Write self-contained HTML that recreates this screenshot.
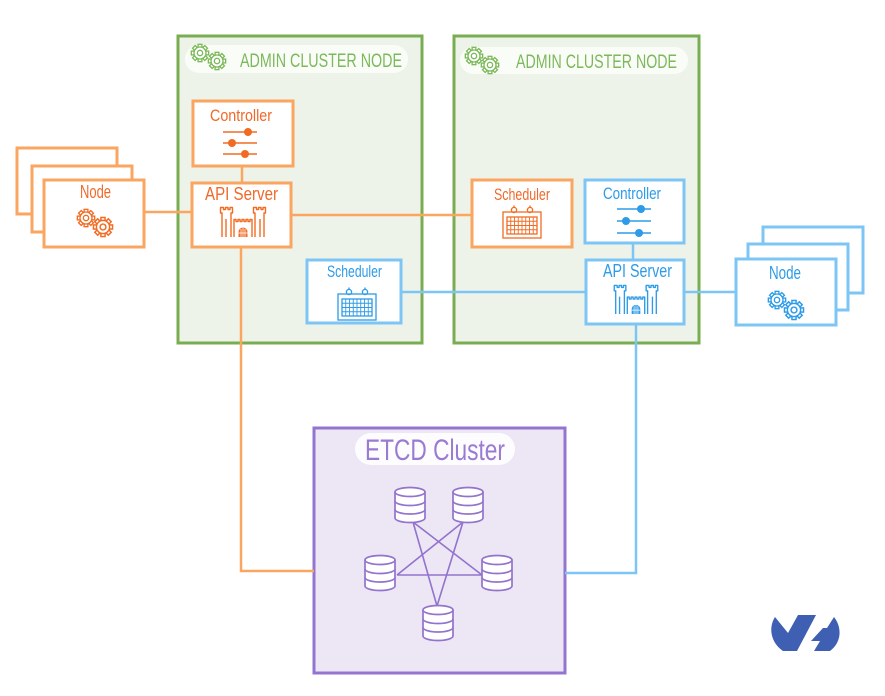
<!DOCTYPE html>
<html><head><meta charset="utf-8"><style>
html,body{margin:0;padding:0;background:#fff;}
svg{display:block;}
text{font-family:"Liberation Sans Narrow","Liberation Sans",sans-serif;}
</style></head><body>
<svg width="885" height="696" viewBox="0 0 885 696" xmlns="http://www.w3.org/2000/svg">
<defs>
<symbol id="gear" viewBox="-9 -9 18 18" overflow="visible">
<g fill="#fff" stroke="currentColor" stroke-width="1.2">
<rect x="-1.7" y="-7.8" width="3.4" height="3.8"/>
<rect x="-1.7" y="-7.8" width="3.4" height="3.8" transform="rotate(45)"/>
<rect x="-1.7" y="-7.8" width="3.4" height="3.8" transform="rotate(90)"/>
<rect x="-1.7" y="-7.8" width="3.4" height="3.8" transform="rotate(135)"/>
<rect x="-1.7" y="-7.8" width="3.4" height="3.8" transform="rotate(180)"/>
<rect x="-1.7" y="-7.8" width="3.4" height="3.8" transform="rotate(225)"/>
<rect x="-1.7" y="-7.8" width="3.4" height="3.8" transform="rotate(270)"/>
<rect x="-1.7" y="-7.8" width="3.4" height="3.8" transform="rotate(315)"/>
<circle r="5.4"/>
<circle r="2.4"/>
</g>
</symbol>
<symbol id="castle" viewBox="0 0 46 30" overflow="visible">
<g fill="none" stroke="currentColor" stroke-width="1.4" stroke-linejoin="round">
<path d="M2,30 V6 H0.5 V0.5 H3.5 V2.5 H5.5 V0.5 H8 V2.5 H10 V0.5 H12.5 V6 H11 V30"/>
<path d="M35,30 V6 H33.5 V0.5 H36.5 V2.5 H38.5 V0.5 H41 V2.5 H43 V0.5 H45.5 V6 H44 V30"/>
<path d="M14,30 V12.5 H16 V14.5 H18 V12.5 H20 V14.5 H22 V12.5 H24 V14.5 H26 V12.5 H28 V14.5 H30 V12.5 H32 V30"/>
<path d="M6,12 V30 M40,12 V30"/>
</g>
<path d="M18.5,30 V25 A4.5,4.5 0 0 1 27.5,25 V30 Z" fill="currentColor"/>
<path d="M21,30 V22 M23,30 V21 M25,30 V22 M18.5,26 H27.5" stroke="#fff" stroke-width="0.7"/>
</symbol>
<symbol id="cal" viewBox="0 -4 40 34" overflow="visible">
<g fill="none" stroke="currentColor" stroke-width="1.3">
<rect x="1" y="3" width="38" height="26"/>
<circle cx="12" cy="1" r="2.6"/>
<circle cx="28" cy="1" r="2.6"/>
<path d="M12,-3.5 V-1 M28,-3.5 V-1"/>
<rect x="5" y="8" width="30" height="17"/>
<path d="M8.75,8 V25 M12.5,8 V25 M16.25,8 V25 M20,8 V25 M23.75,8 V25 M27.5,8 V25 M31.25,8 V25 M5,12.25 H35 M5,16.5 H35 M5,20.75 H35" stroke-width="0.9"/>
</g>
</symbol>
<symbol id="db" viewBox="0 0 32 36" overflow="visible">
<g fill="#fff" stroke="#9373cc" stroke-width="1.7">
<path d="M1,5 V31 A15,4.5 0 0 0 31,31 V5"/>
<ellipse cx="16" cy="5" rx="15" ry="4.5"/>
<path d="M1,14 A15,4.5 0 0 0 31,14 M1,22.5 A15,4.5 0 0 0 31,22.5" fill="none"/>
</g>
</symbol>
</defs>

<!-- Admin clusters -->
<rect x="178" y="36" width="244" height="307" fill="#eef3e9" stroke="#79ad51" stroke-width="3"/>
<rect x="185" y="45" width="223" height="28" rx="14" fill="#fafcf8"/>
<use href="#gear" x="190" y="43" width="20" height="20" style="color:#7cb95a"/>
<use href="#gear" x="207" y="51" width="20" height="20" style="color:#7cb95a"/>
<text x="240" y="67" font-size="19" fill="#7cb95a" textLength="162" lengthAdjust="spacingAndGlyphs">ADMIN  CLUSTER  NODE</text>

<rect x="454" y="36" width="245" height="307" fill="#eef3e9" stroke="#79ad51" stroke-width="3"/>
<rect x="460" y="47" width="228" height="27" rx="13.5" fill="#fafcf8"/>
<use href="#gear" x="464" y="46" width="20" height="20" style="color:#7cb95a"/>
<use href="#gear" x="480" y="55" width="20" height="20" style="color:#7cb95a"/>
<text x="516" y="68" font-size="19" fill="#7cb95a" textLength="161" lengthAdjust="spacingAndGlyphs">ADMIN  CLUSTER  NODE</text>

<!-- ETCD -->
<rect x="314" y="428" width="251" height="245" fill="#ece6f5" stroke="#9574cf" stroke-width="3"/>
<rect x="355" y="433" width="160" height="32" rx="16" fill="#fdfcff"/>
<text x="365" y="460" font-size="30" fill="#9a7bd2" textLength="140" lengthAdjust="spacingAndGlyphs">ETCD Cluster</text>
<g stroke="#9373cc" stroke-width="1.6" fill="none">
<path d="M413,522 L437,606 M413,522 L482,575 M463,522 L397,575 M463,522 L437,606 M397,575 L482,575"/>
</g>
<use href="#db" x="394" y="487" width="32" height="36"/>
<use href="#db" x="452" y="487" width="32" height="36"/>
<use href="#db" x="364" y="555" width="32" height="36"/>
<use href="#db" x="481" y="555" width="32" height="36"/>
<use href="#db" x="422" y="605" width="32" height="36"/>

<!-- connectors orange -->
<g stroke="#fba660" stroke-width="2.5" fill="none">
<path d="M144,212 H191"/>
<path d="M242,166 V182"/>
<path d="M291,215 H471"/>
<path d="M241,247 V571 H314"/>
</g>
<!-- connectors blue -->
<g stroke="#7cc5f5" stroke-width="2.5" fill="none">
<path d="M401,292 H585"/>
<path d="M633,243 V259"/>
<path d="M684,292 H735"/>
<path d="M636,324 V573 H565"/>
</g>

<!-- left node stack -->
<g fill="#fff" stroke="#fba660" stroke-width="3">
<rect x="17" y="148" width="100" height="66"/>
<rect x="32" y="166" width="100" height="66"/>
<rect x="44" y="180" width="100" height="67"/>
</g>
<text x="80" y="198" font-size="18" fill="#f0692a" textLength="31" lengthAdjust="spacingAndGlyphs">Node</text>
<use href="#gear" x="76" y="208" width="20" height="20" style="color:#f26b22"/>
<use href="#gear" x="92" y="216" width="22" height="22" style="color:#f26b22"/>

<!-- left controller -->
<rect x="193" y="101" width="100" height="65" fill="#fff" stroke="#fba660" stroke-width="3"/>
<text x="210" y="121" font-size="17" fill="#f0692a" textLength="62" lengthAdjust="spacingAndGlyphs">Controller</text>
<g stroke="#f26b22" stroke-width="1.5"><path d="M223,132 H257 M223,143 H257 M223,154 H257"/></g>
<g fill="#f26b22"><circle cx="248" cy="132" r="4"/><circle cx="232" cy="143" r="4"/><circle cx="245" cy="154" r="4"/></g>

<!-- left API server -->
<rect x="192" y="183" width="99" height="64" fill="#fff" stroke="#fba660" stroke-width="3"/>
<text x="205" y="200" font-size="18" fill="#f0692a" textLength="73" lengthAdjust="spacingAndGlyphs">API Server</text>
<use href="#castle" x="220" y="207" width="46" height="30" style="color:#f26b22"/>

<!-- left scheduler (blue) -->
<rect x="307" y="260" width="94" height="63" fill="#fff" stroke="#7cc5f5" stroke-width="3"/>
<text x="327" y="277" font-size="17" fill="#2d9be8" textLength="55" lengthAdjust="spacingAndGlyphs">Scheduler</text>
<use href="#cal" x="337" y="287" width="40" height="34" style="color:#2d9be8"/>

<!-- right scheduler (orange) -->
<rect x="472" y="180" width="100" height="67" fill="#fff" stroke="#fba660" stroke-width="3"/>
<text x="494" y="200" font-size="17" fill="#f0692a" textLength="56" lengthAdjust="spacingAndGlyphs">Scheduler</text>
<use href="#cal" x="502" y="205" width="40" height="34" style="color:#f26b22"/>

<!-- right controller (blue) -->
<rect x="585" y="180" width="99" height="63" fill="#fff" stroke="#7cc5f5" stroke-width="3"/>
<text x="603" y="199" font-size="17" fill="#2d9be8" textLength="58" lengthAdjust="spacingAndGlyphs">Controller</text>
<g stroke="#2d9be8" stroke-width="1.5"><path d="M617,209 H651 M617,221 H651 M617,233 H651"/></g>
<g fill="#2d9be8"><circle cx="641" cy="209" r="4"/><circle cx="626" cy="221" r="4"/><circle cx="639" cy="233" r="4"/></g>

<!-- right API server (blue) -->
<rect x="586" y="260" width="98" height="64" fill="#fff" stroke="#7cc5f5" stroke-width="3"/>
<text x="603" y="277" font-size="18" fill="#2d9be8" textLength="69" lengthAdjust="spacingAndGlyphs">API Server</text>
<use href="#castle" x="613" y="285" width="46" height="29" style="color:#2d9be8"/>

<!-- right node stack -->
<g fill="#fff" stroke="#7cc5f5" stroke-width="3">
<rect x="763" y="227" width="100" height="66"/>
<rect x="748" y="244" width="100" height="66"/>
<rect x="736" y="259" width="100" height="66"/>
</g>
<text x="769" y="279" font-size="18" fill="#2d9be8" textLength="32" lengthAdjust="spacingAndGlyphs">Node</text>
<use href="#gear" x="767" y="290" width="20" height="20" style="color:#2d9be8"/>
<use href="#gear" x="783" y="299" width="22" height="22" style="color:#2d9be8"/>

<!-- logo -->
<g fill="#3f5fb2">
<path d="M775,617 C768,628 771,643 783,651 L797,651 L816,615 L798,615 L788,633 Z"/>
<path d="M834,617 C842,627 842,642 830,651 L814,651 L820,641 L811,641 L823,628 L827,628 Z"/>
</g>
</svg>
</body></html>
